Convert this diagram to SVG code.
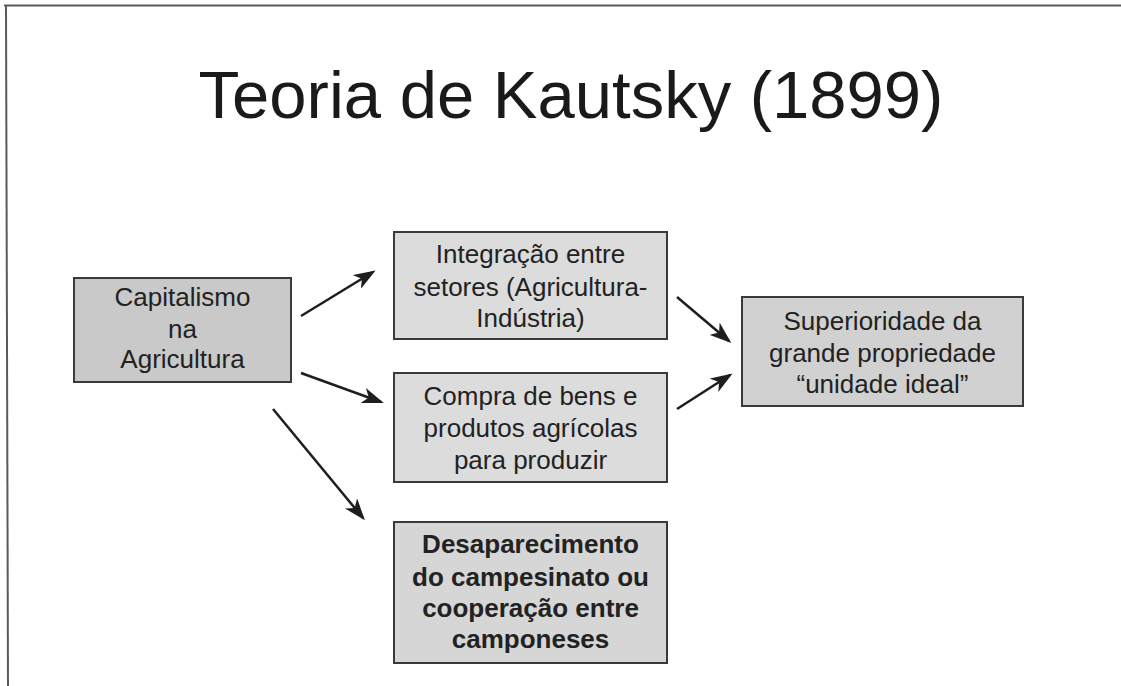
<svg xmlns="http://www.w3.org/2000/svg" width="1121" height="686" viewBox="0 0 1121 686">
<defs>
<marker id="ah" viewBox="0 0 22 16" markerWidth="22" markerHeight="16" markerUnits="userSpaceOnUse" refX="19" refY="8" orient="auto">
<path d="M0,0 L22,8 L0,16 L6,8 z" fill="#1e1e1e"/>
</marker>
<style>
.box{stroke:#3a3a3a;stroke-width:2}
.t{font-family:"Liberation Sans",Arial,sans-serif;font-size:26px;fill:#222;text-anchor:middle}
.b{font-weight:bold}
.title{font-family:"Liberation Sans",Arial,sans-serif;font-size:67px;fill:#1a1a1a;text-anchor:middle}
.c{stroke:#1e1e1e;stroke-width:2.5;fill:none;marker-end:url(#ah)}
</style>
</defs>
<rect width="1121" height="686" fill="#fff"/>
<g id="frame" stroke="#5a5a5a" stroke-width="2" fill="none">
<line x1="4" y1="5.5" x2="1121" y2="5.5"/>
<line x1="6" y1="5" x2="8" y2="686"/>
</g>
<text class="title" x="571" y="118">Teoria de Kautsky (1899)</text>
<g id="n-capitalismo">
<rect class="box" x="74" y="278" width="217" height="104" fill="#c9c9c9"/>
<text class="t" x="182.5" y="306">Capitalismo</text>
<text class="t" x="182.5" y="338">na</text>
<text class="t" x="182.5" y="368">Agricultura</text>
</g>
<g id="n-integracao">
<rect class="box" x="394" y="232" width="273" height="107" fill="#dcdcdc"/>
<text class="t" x="530.5" y="263">Integração entre</text>
<text class="t" x="530.5" y="296">setores (Agricultura-</text>
<text class="t" x="530.5" y="327">Indústria)</text>
</g>
<g id="n-compra">
<rect class="box" x="394" y="373" width="273" height="109" fill="#dcdcdc"/>
<text class="t" x="530.5" y="405">Compra de bens e</text>
<text class="t" x="530.5" y="437">produtos agrícolas</text>
<text class="t" x="530.5" y="469">para produzir</text>
</g>
<g id="n-superioridade">
<rect class="box" x="742" y="297" width="281" height="109" fill="#d1d1d1"/>
<text class="t" x="882.5" y="330">Superioridade da</text>
<text class="t" x="882.5" y="362">grande propriedade</text>
<text class="t" x="882.5" y="393">“unidade ideal”</text>
</g>
<g id="n-desaparecimento">
<rect class="box" x="394" y="522" width="273" height="141" fill="#d6d6d6"/>
<text class="t b" x="530.5" y="553">Desaparecimento</text>
<text class="t b" x="530.5" y="586">do campesinato ou</text>
<text class="t b" x="530.5" y="617">cooperação entre</text>
<text class="t b" x="530.5" y="648">camponeses</text>
</g>
<g id="connectors">
<line class="c" x1="301" y1="316" x2="373" y2="272"/>
<line class="c" x1="301" y1="373" x2="381" y2="402"/>
<line class="c" x1="273" y1="409" x2="363" y2="518"/>
<line class="c" x1="677" y1="297" x2="729" y2="341"/>
<line class="c" x1="677" y1="409" x2="730" y2="375"/>
</g>
</svg>
